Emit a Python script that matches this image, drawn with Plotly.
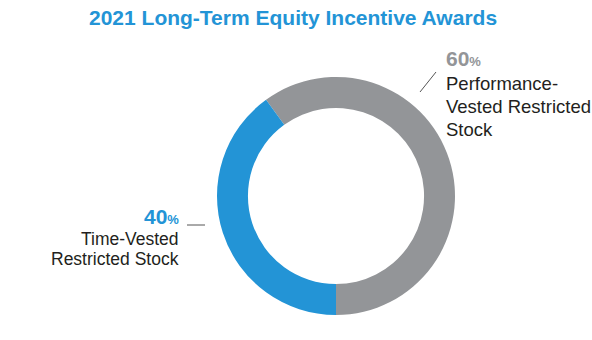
import plotly.graph_objects as go

labels = ["Performance-Vested Restricted Stock", "Time-Vested Restricted Stock"]
values = [60, 40]
colors = ["#939598", "#2394D6"]
title = "2021 Long-Term Equity Incentive Awards"

W, H = 592, 340
def px(x): return x / W
def py(y): return 1 - y / H

cx, cy, r = 336, 196, 119
fig = go.Figure(go.Pie(
    labels=labels, values=values, sort=False, direction="clockwise",
    rotation=-36, hole=0.74, marker=dict(colors=colors, line=dict(width=0)),
    textinfo="none", hoverinfo="label+percent", showlegend=False,
    domain=dict(x=[px(cx - r), px(cx + r)], y=[py(cy + r), py(cy - r)]),
))

font = "Liberation Sans, Arial, Helvetica, sans-serif"
ann = []
ann.append(dict(x=px(293), y=py(17), xref="paper", yref="paper", xanchor="center", yanchor="middle",
                text=f"<b>{title}</b>", showarrow=False, font=dict(family=font, size=21, color="#2394D6")))
ann.append(dict(x=px(444), y=py(58), xref="paper", yref="paper", xanchor="left", yanchor="middle",
                text=f"<b>{values[0]}</b><span style='font-size:13px'><b>%</b></span>", showarrow=False,
                font=dict(family=font, size=21, color=colors[0])))
for t, yy in [("Performance-", 83), ("Vested Restricted", 106), ("Stock", 129)]:
    ann.append(dict(x=px(444), y=py(yy), xref="paper", yref="paper", xanchor="left", yanchor="middle",
                    text=t, showarrow=False, font=dict(family=font, size=18.5, color="#231F20")))
ann.append(dict(x=px(181), y=py(216), xref="paper", yref="paper", xanchor="right", yanchor="middle",
                text=f"<b>{values[1]}</b><span style='font-size:13px'><b>%</b></span>", showarrow=False,
                font=dict(family=font, size=21, color=colors[1])))
for t, yy in [("Time-Vested", 239), ("Restricted Stock", 259)]:
    ann.append(dict(x=px(181), y=py(yy), xref="paper", yref="paper", xanchor="right", yanchor="middle",
                    text=t, showarrow=False, font=dict(family=font, size=17.5, color="#231F20")))

shapes = [
    dict(type="line", xref="paper", yref="paper", x0=px(187), y0=py(225), x1=px(205), y1=py(225),
         line=dict(color="#555555", width=1)),
    dict(type="line", xref="paper", yref="paper", x0=px(420), y0=py(92), x1=px(436), y1=py(72),
         line=dict(color="#555555", width=1)),
]

fig.update_layout(width=W, height=H, margin=dict(l=0, r=0, t=0, b=0),
                  paper_bgcolor="white", plot_bgcolor="white",
                  annotations=ann, shapes=shapes)
fig.write_html("out.html")
